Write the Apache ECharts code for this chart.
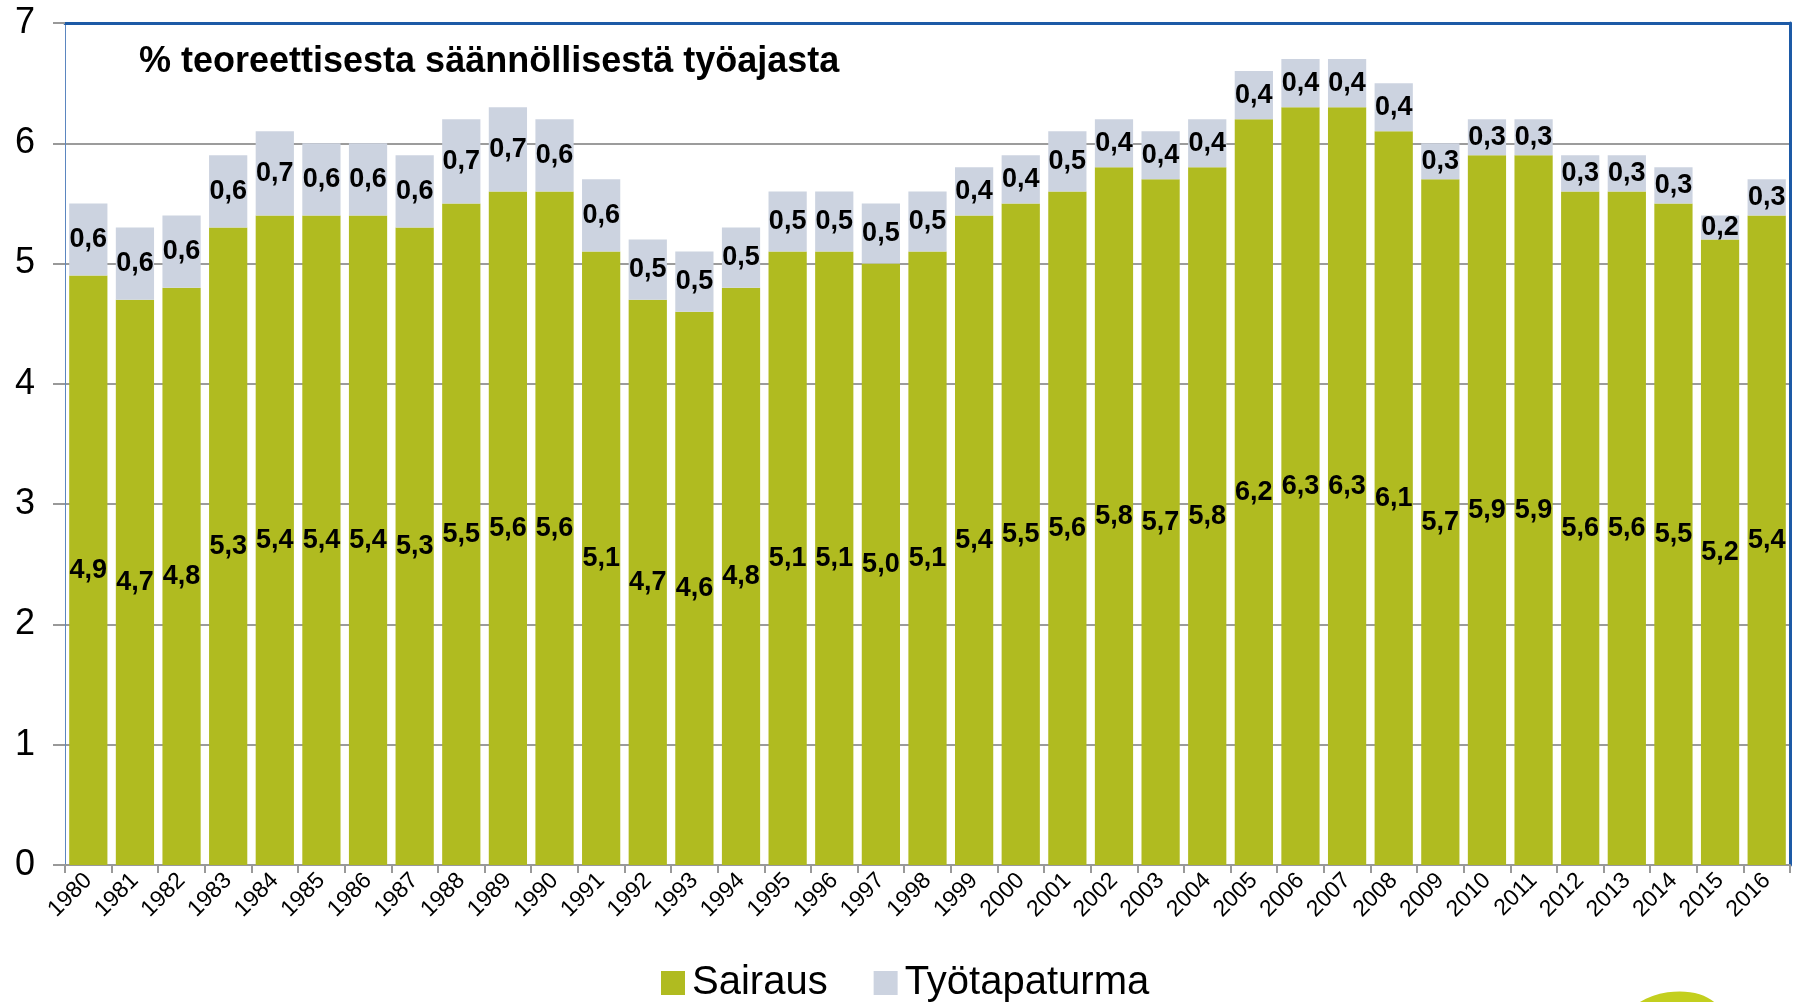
<!DOCTYPE html>
<html>
<head>
<meta charset="utf-8">
<script src="https://cdn.jsdelivr.net/npm/echarts@6/dist/echarts.min.js"></script>
<style>
  html, body { margin: 0; padding: 0; background: #fff; }
  #chart { width: 1797px; height: 1002px; }
</style>
</head>
<body>
<div id="chart"></div>
<script>
const years = ['1980','1981','1982','1983','1984','1985','1986','1987','1988','1989',
  '1990','1991','1992','1993','1994','1995','1996','1997','1998','1999',
  '2000','2001','2002','2003','2004','2005','2006','2007','2008','2009',
  '2010','2011','2012','2013','2014','2015','2016'];

// Sairaus (illness)
const sairaus = [4.9, 4.7, 4.8, 5.3, 5.4, 5.4, 5.4, 5.3, 5.5, 5.6,
  5.6, 5.1, 4.7, 4.6, 4.8, 5.1, 5.1, 5.0, 5.1, 5.4,
  5.5, 5.6, 5.8, 5.7, 5.8, 6.2, 6.3, 6.3, 6.1, 5.7,
  5.9, 5.9, 5.6, 5.6, 5.5, 5.2, 5.4];

// Työtapaturma (work accident)
const tyotapaturma = [0.6, 0.6, 0.6, 0.6, 0.7, 0.6, 0.6, 0.6, 0.7, 0.7,
  0.6, 0.6, 0.5, 0.5, 0.5, 0.5, 0.5, 0.5, 0.5, 0.4,
  0.4, 0.5, 0.4, 0.4, 0.4, 0.4, 0.4, 0.4, 0.4, 0.3,
  0.3, 0.3, 0.3, 0.3, 0.3, 0.2, 0.3];

const yTicks = [0, 7, 1]; // min, max, interval

const GREEN = '#b0bb20';
const GREY = '#ccd3e0';
const BLUE = '#1d5aa6';
const FONT = 'Liberation Sans, Arial, sans-serif';

const fmt = p => p.value.toFixed(1).replace('.', ',');

const chart = echarts.init(document.getElementById('chart'), null, { renderer: 'canvas' });

const valueLabel = {
  show: true,
  position: 'inside',
  formatter: fmt,
  color: '#000',
  fontFamily: FONT,
  fontWeight: 'bold',
  fontSize: 27,
};

chart.setOption({
  backgroundColor: '#fff',
  animation: false,
  title: {
    text: '% teoreettisesta säännöllisestä työajasta',
    left: 134, top: 39,
    textStyle: { fontFamily: FONT, fontWeight: 'bold', fontSize: 36, color: '#000' },
  },
  grid: { left: 65, right: 7, top: 23, bottom: 137 },
  legend: {
    left: 656, top: 958,
    icon: 'rect',
    itemWidth: 24, itemHeight: 24, itemGap: 46,
    textStyle: { fontFamily: FONT, fontSize: 40, color: '#000', padding: [0, 0, 0, 2] },
    data: ['Sairaus', 'Työtapaturma'],
  },
  xAxis: [{
    type: 'category',
    data: years,
    position: 'bottom',
    axisLine: { onZero: false, lineStyle: { color: '#999', width: 2 } },
    axisTick: { show: true, length: 8, lineStyle: { color: '#999', width: 2 } },
    axisLabel: { rotate: 45, fontFamily: FONT, fontSize: 23, color: '#000', margin: 12, interval: 0 },
  }, {
    type: 'category',
    data: years,
    position: 'top',
    axisLine: { onZero: false, lineStyle: { color: BLUE, width: 3 } },
    axisTick: { show: false },
    axisLabel: { show: false },
  }],
  yAxis: [{
    type: 'value',
    min: yTicks[0], max: yTicks[1], interval: yTicks[2],
    axisLine: { show: true, onZero: false, lineStyle: { color: '#5b86c0', width: 1 } },
    axisTick: { show: true, length: 12, lineStyle: { color: '#999', width: 2 } },
    axisLabel: { fontFamily: FONT, fontSize: 36, color: '#000', margin: 30 },
    splitLine: { lineStyle: { color: '#9c9c9c', width: 2 } },
  }, {
    type: 'value',
    position: 'right',
    min: yTicks[0], max: yTicks[1], interval: yTicks[2],
    axisLine: { show: true, onZero: false, lineStyle: { color: BLUE, width: 3 } },
    axisTick: { show: false },
    axisLabel: { show: false },
    splitLine: { show: false },
  }],
  series: [{
    name: 'Sairaus',
    type: 'bar',
    stack: 'total',
    barWidth: '82%',
    data: sairaus,
    itemStyle: { color: GREEN },
    label: valueLabel,
    z: 3,
  }, {
    name: 'Työtapaturma',
    type: 'bar',
    stack: 'total',
    barWidth: '82%',
    data: tyotapaturma,
    itemStyle: { color: GREY },
    label: valueLabel,
    z: 3,
  }],
  graphic: [{
    type: 'ellipse',
    shape: { cx: 1672, cy: 1022, rx: 50, ry: 30 },
    rotation: 0.15,
    originX: 1672, originY: 1022,
    style: { fill: '#c3cf1e' },
  }],
});
</script>
</body>
</html>
